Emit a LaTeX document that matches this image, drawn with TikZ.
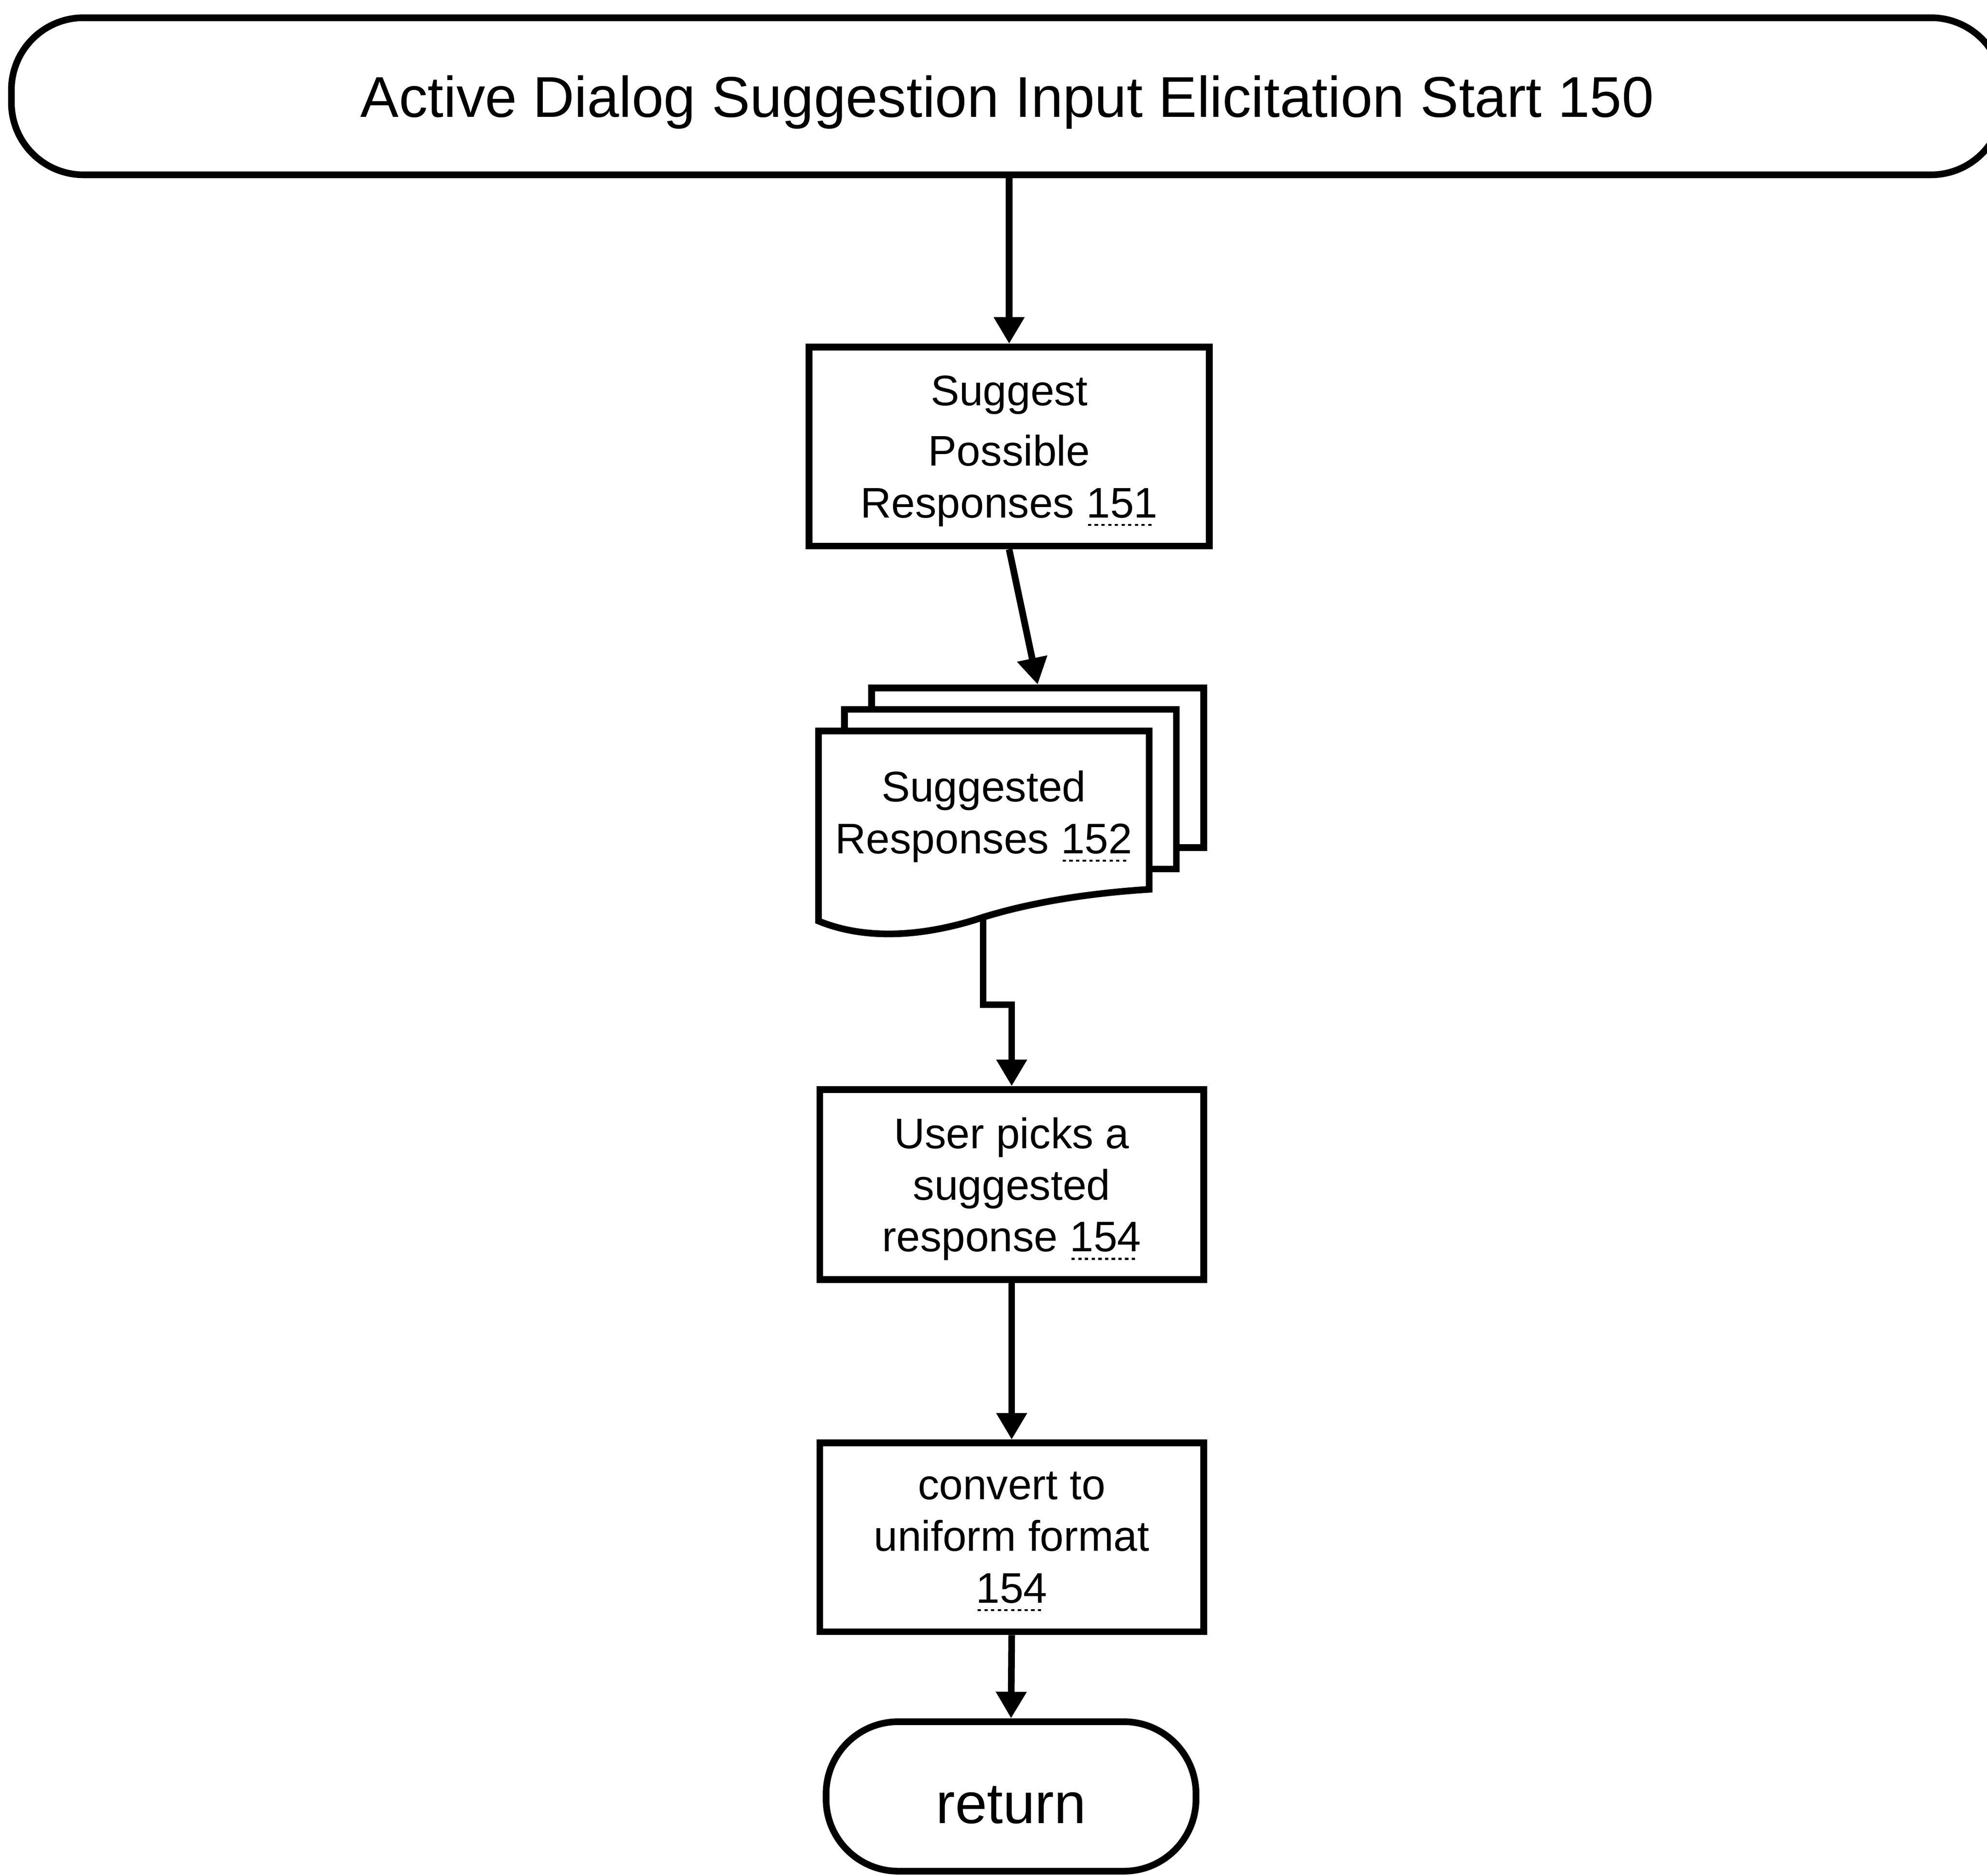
\documentclass[tikz,border=0pt]{standalone}
\usepackage{fontspec}
\setmainfont{Liberation Sans}
\usetikzlibrary{arrows.meta, positioning}

\newsavebox\dotnumbox
\newcommand{\dotnum}[1]{\sbox\dotnumbox{#1}\vtop{\hbox{\usebox\dotnumbox}\nointerlineskip\kern1.3pt
    \hbox to\wd\dotnumbox{\leaders\hbox to 1.5pt{\hss\vrule width 0.75pt height 0.45pt depth 0pt\hss}\hfill}}}

\begin{document}
\begin{tikzpicture}[
    >={Triangle[length=2.1mm, width=2.3mm]},
    box/.style={draw, line width=1.5pt, align=center, inner sep=0pt, text depth=0pt,
        font=\fontsize{9.6}{11.6}\selectfont},
    term/.style={draw, line width=1.5pt, rounded corners=0.57cm, text depth=0pt,
        font=\fontsize{12.9}{15}\selectfont},
    sheet/.style={draw, line width=1.5pt, fill=white,
        minimum width=2.62cm, minimum height=1.26cm},
    flow/.style={line width=1.5pt, ->}]
    \useasboundingbox (0,0) rectangle (15.683,-14.808);

    \node[term, minimum width=15.72cm, minimum height=1.24cm] (start) at (7.95,-0.76) {Active Dialog Suggestion Input Elicitation Start 150};
    \node[box, minimum width=3.16cm, minimum height=1.57cm] (suggest) at (7.965,-3.525) {Suggest\\[2pt]Possible\\Responses \dotnum{151}};

    % stack of suggested responses
    \node[sheet] (back) at (8.19,-6.06) {};
    \node[sheet] (middle) at (7.975,-6.23) {};
    \draw[line width=1.5pt, fill=white] (6.46,-5.77) -- (9.07,-5.77) -- (9.07,-7.02)
        .. controls (8.60,-7.05) and (8.15,-7.12) .. (7.76,-7.24)
        .. controls (7.40,-7.36) and (6.90,-7.45) .. (6.46,-7.27) -- cycle;
    \node[align=center, text depth=0pt, font=\fontsize{9.6}{11.6}\selectfont] (docs) at (7.765,-6.41) {Suggested\\Responses \dotnum{152}};
    \coordinate (docout) at (7.76,-7.24);

    \node[box, minimum width=3.03cm, minimum height=1.50cm] (picks) at (7.985,-9.35) {User picks a\\suggested\\response \dotnum{154}};
    \node[box, minimum width=3.03cm, minimum height=1.49cm] (convert) at (7.985,-12.135) {convert to\\uniform format\\\dotnum{154}};
    \node[term, minimum width=2.92cm, minimum height=1.18cm, text height=12pt] (ret) at (7.98,-14.18) {return};

    \draw[flow] (suggest.north |- start.south) -- (suggest.north);
    \draw[flow] (suggest.south) -- (back.north);
    \draw[flow] (docout) -- ++(0,-0.69) -| (picks.north);
    \draw[flow] (picks.south) -- (convert.north);
    \draw[flow] (convert.south) -- (ret.north);
\end{tikzpicture}
\end{document}
